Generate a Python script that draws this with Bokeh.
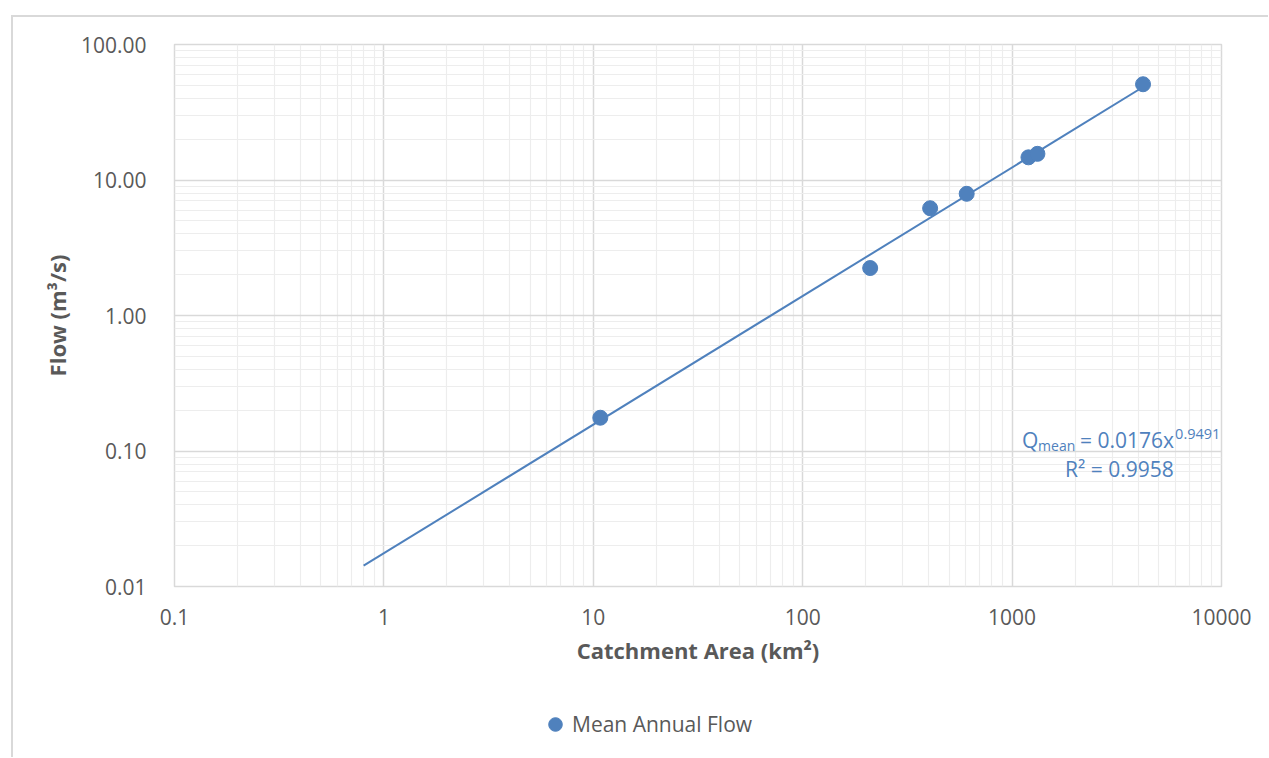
from bokeh.plotting import figure
from bokeh.layouts import column
from bokeh.models import (FixedTicker, CustomJSTickFormatter, Label, Legend,
                          LegendItem, Range1d)
from bokeh.embed import file_html
from bokeh.resources import INLINE

# ---- data ----
catchment_area = [10.8, 210, 406, 607, 1197, 1321, 4220]
mean_flow = [0.176, 2.24, 6.19, 7.91, 14.7, 15.6, 50.9]
trend_coef = 0.0176
trend_exp = 0.9491
r_squared = 0.9958
trend_x = [0.8, 4220]
trend_y = [trend_coef * x ** trend_exp for x in trend_x]

x_ticks = [0.1, 1, 10, 100, 1000, 10000]
y_ticks = [0.01, 0.1, 1, 10, 100]
x_minor = [m * t for t in x_ticks[:-1] for m in range(2, 10)]
y_minor = [m * t for t in y_ticks[:-1] for m in range(2, 10)]

BLUE = "#4f81bd"
GREY = "#595959"
BORDER = "2px solid #d9d9d9"
FONT = "Open Sans"

p = figure(x_axis_type="log", y_axis_type="log",
           x_range=(0.1, 10000), y_range=(0.01, 100),
           frame_width=1045, frame_height=540,
           min_border_left=161, min_border_right=49,
           min_border_top=27, min_border_bottom=110,
           output_backend="svg", toolbar_location=None)
p.styles = {"margin-left": "11px", "margin-top": "15px",
            "border-left": BORDER, "border-top": BORDER}

xt = FixedTicker(ticks=x_ticks, minor_ticks=x_minor)
yt = FixedTicker(ticks=y_ticks, minor_ticks=y_minor)
p.xaxis.ticker = xt
p.yaxis.ticker = yt
p.xgrid.ticker = xt
p.ygrid.ticker = yt
p.xaxis.formatter = CustomJSTickFormatter(code="return String(tick);")
p.yaxis.formatter = CustomJSTickFormatter(code="return tick.toFixed(2);")

for g in (p.xgrid, p.ygrid):
    g.grid_line_color = "#d9d9d9"
    g.grid_line_width = 1.5
    g.minor_grid_line_color = "#ededed"
    g.minor_grid_line_width = 1.2

p.outline_line_color = "#d9d9d9"
p.outline_line_width = 1.5

for ax in (p.xaxis, p.yaxis):
    ax.axis_line_color = None
    ax.major_tick_line_color = None
    ax.minor_tick_line_color = None
    ax.major_tick_out = 0
    ax.major_tick_in = 0
    ax.major_label_text_font = FONT
    ax.major_label_text_font_size = "21px"
    ax.major_label_text_color = GREY
    ax.axis_label_text_font = FONT
    ax.axis_label_text_font_size = "22px"
    ax.axis_label_text_font_style = "bold"
    ax.axis_label_text_color = GREY

p.xaxis.axis_label = "Catchment Area (km²)"
p.yaxis.axis_label = "Flow (m³/s)"
p.xaxis.major_label_standoff = 18
p.yaxis.major_label_standoff = 24
p.xaxis.axis_label_standoff = 7
p.yaxis.axis_label_standoff = 6

# trend line and points
p.line(trend_x, trend_y, line_color=BLUE, line_width=2)
p.scatter(catchment_area, mean_flow, size=15, color=BLUE)

# equation labels (anchored at a data point, offsets in pixels)
ax_x, ax_y = 1000, 0.1
lab_kw = dict(x=ax_x, y=ax_y, text_font=FONT, text_color=BLUE,
              text_align="left", text_baseline="alphabetic")
p.add_layout(Label(text="Q", x_offset=10, y_offset=11, text_font_size="21px", **lab_kw))
p.add_layout(Label(text="mean", x_offset=26, y_offset=6, text_font_size="14px", **lab_kw))
p.add_layout(Label(text="= %.4fx" % trend_coef, x_offset=68, y_offset=11, text_font_size="21px", **lab_kw))
p.add_layout(Label(text="%.4f" % trend_exp, x_offset=163, y_offset=17, text_font_size="14.5px", **lab_kw))
p.add_layout(Label(text="R² = %.4f" % r_squared, x_offset=53, y_offset=-18, text_font_size="21px", **lab_kw))

# legend strip below the chart (same series, drawn outside this strip's view)
leg = figure(width=1255, height=63, x_range=Range1d(0, 1), y_range=Range1d(0, 1),
             x_axis_location=None, y_axis_location=None,
             min_border=0, output_backend="svg", toolbar_location=None)
leg.styles = {"margin-left": "11px", "border-left": BORDER}
leg.grid.visible = False
leg.outline_line_color = None
leg_r = leg.scatter(catchment_area, mean_flow, size=15, color=BLUE)
legend = Legend(items=[LegendItem(label="Mean Annual Flow", renderers=[leg_r])],
                location=(364, 14), orientation="horizontal",
                border_line_color=None, background_fill_alpha=0,
                padding=0, margin=0, spacing=0,
                glyph_width=34, glyph_height=38, label_standoff=0,
                label_text_font=FONT, label_text_font_size="21px",
                label_text_color=GREY)
leg.add_layout(legend, "center")

layout = column(p, leg, spacing=0)
open("out.html", "w").write(file_html(layout, INLINE))
